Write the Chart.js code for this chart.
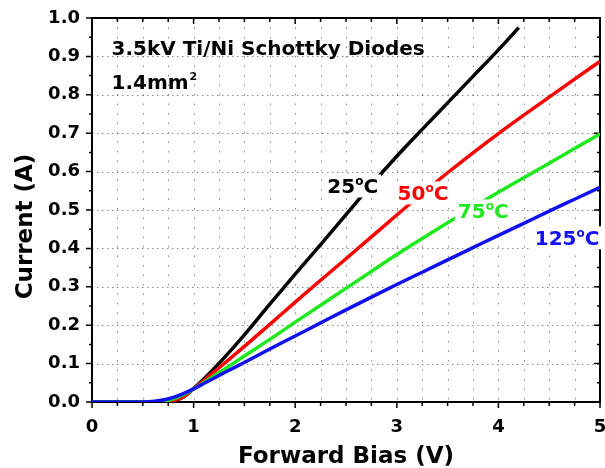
<!DOCTYPE html>
<html>
<head>
<meta charset="utf-8">
<script src="https://cdn.jsdelivr.net/npm/chart.js@4/dist/chart.umd.min.js"></script>
<style>
  html, body { margin: 0; padding: 0; background: #fff; }
  canvas { display: block; }
</style>
</head>
<body>
<canvas id="c" width="605" height="468"></canvas>
<script>
// ---- data ----
const voltage25 = [0, 0.5, 0.75, 0.8, 0.9, 1.0, 1.1, 1.2, 1.3, 1.5, 1.75, 2.0, 2.25, 2.5, 2.75, 3.0, 3.25, 3.5, 3.75, 4.0, 4.2];
const current25 = [0, 0, 0, 0.002, 0.013, 0.035, 0.06, 0.087, 0.115, 0.175, 0.255, 0.333, 0.41, 0.488, 0.566, 0.64, 0.71, 0.779, 0.848, 0.917, 0.975];

const voltage = [0, 0.5, 0.7, 0.8, 0.9, 1.0, 1.1, 1.2, 1.3, 1.5, 1.75, 2.0, 2.25, 2.5, 2.75, 3.0, 3.25, 3.5, 3.75, 4.0, 4.25, 4.5, 4.75, 5.0];
const current50  = [0, 0, 0, 0.003, 0.014, 0.034, 0.056, 0.078, 0.1, 0.145, 0.202, 0.26, 0.317, 0.373, 0.43, 0.487, 0.543, 0.597, 0.649, 0.699, 0.747, 0.794, 0.841, 0.887];
const current75  = [0, 0, 0.002, 0.008, 0.019, 0.034, 0.051, 0.068, 0.085, 0.12, 0.163, 0.208, 0.252, 0.296, 0.34, 0.384, 0.426, 0.467, 0.507, 0.546, 0.584, 0.622, 0.66, 0.698];
const current125 = [0, 0, 0.005, 0.012, 0.022, 0.034, 0.048, 0.062, 0.076, 0.103, 0.138, 0.172, 0.206, 0.24, 0.273, 0.306, 0.338, 0.37, 0.402, 0.434, 0.465, 0.497, 0.528, 0.559];

const seriesTemps = ['25', '50', '75', '125'];
const seriesColors = ['#000000', '#ff0000', '#1ee81e', '#1010f0'];

const xTickLabels = ['0', '1', '2', '3', '4', '5'];
const xTitle = 'Forward Bias (V)';
const yTitle = 'Current (A)';
const noteLine1 = '3.5kV Ti/Ni Schottky Diodes';
const noteLine2 = '1.4mm';
const noteLine2Sup = '2';

// label anchors in data units (left edge V, baseline A)
const tempLabelAnchors = [[2.316, 0.543], [3.008, 0.525], [3.601, 0.478], [4.358, 0.408]];
const noteAnchor = [0.192, 0.904, 0.816];

const FONT = '"DejaVu Sans", "Liberation Sans", Arial, sans-serif';

function pts(xs, ys) { return xs.map((v, i) => ({ x: v, y: ys[i] })); }

const gridFrame = {
  id: 'gridFrame',
  beforeDatasetsDraw(chart) {
    const { ctx, chartArea: a, scales: { x, y } } = chart;
    ctx.save();
    ctx.strokeStyle = 'rgba(0,0,0,0.45)';
    ctx.lineWidth = 1;
    // vertical dotted grid every 0.25 V
    ctx.setLineDash([1.5, 8]);
    ctx.beginPath();
    for (let i = 1; i < 20; i++) {
      const px = Math.round(x.getPixelForValue(i * 0.25)) + 0.5;
      ctx.moveTo(px, a.top); ctx.lineTo(px, a.bottom);
    }
    ctx.stroke();
    // horizontal dotted grid every 0.1 A
    ctx.setLineDash([1.5, 3.5]);
    ctx.beginPath();
    for (let i = 1; i < 10; i++) {
      const py = Math.round(y.getPixelForValue(i * 0.1)) + 0.5;
      ctx.moveTo(a.left, py); ctx.lineTo(a.right, py);
    }
    ctx.stroke();
    ctx.setLineDash([]);
    // frame
    ctx.strokeStyle = '#000';
    ctx.lineWidth = 2;
    ctx.strokeRect(a.left, a.top, a.right - a.left, a.bottom - a.top);
    // tick marks
    ctx.lineWidth = 1.5;
    ctx.beginPath();
    for (let i = 0; i <= 20; i++) {
      const px = x.getPixelForValue(i * 0.25);
      const L = (i % 4 === 0) ? 6 : 4;
      ctx.moveTo(px, a.bottom); ctx.lineTo(px, a.bottom + L);
      ctx.moveTo(px, a.top); ctx.lineTo(px, a.top + L);
    }
    for (let i = 0; i <= 20; i++) {
      const py = y.getPixelForValue(i * 0.05);
      const L = (i % 2 === 0) ? 6 : 3;
      ctx.moveTo(a.left, py); ctx.lineTo(a.left - L, py);
      ctx.moveTo(a.right, py); ctx.lineTo(a.right - L, py);
    }
    ctx.stroke();
    ctx.restore();
  }
};

const annotations = {
  id: 'annotations',
  afterDatasetsDraw(chart) {
    const { ctx, chartArea: a, scales: { x, y } } = chart;
    ctx.save();
    ctx.textAlign = 'left';
    ctx.textBaseline = 'alphabetic';
    // temperature labels with white background
    seriesTemps.forEach((t, i) => {
      const lx = x.getPixelForValue(tempLabelAnchors[i][0]);
      const by = y.getPixelForValue(tempLabelAnchors[i][1]);
      ctx.font = 'bold 20px ' + FONT;
      const w1 = ctx.measureText(t).width;
      const w3 = ctx.measureText('C').width;
      ctx.font = 'bold 12px ' + FONT;
      const w2 = ctx.measureText('o').width;
      ctx.fillStyle = '#fff';
      ctx.fillRect(lx - 3, by - 19, w1 + w2 + w3 + 6, 23);
      ctx.fillStyle = seriesColors[i];
      ctx.font = 'bold 20px ' + FONT;
      ctx.fillText(t, lx, by);
      ctx.font = 'bold 12px ' + FONT;
      ctx.fillText('o', lx + w1, by - 8);
      ctx.font = 'bold 20px ' + FONT;
      ctx.fillText('C', lx + w1 + w2, by);
    });
    // notes
    ctx.fillStyle = '#000';
    const nx = x.getPixelForValue(noteAnchor[0]);
    ctx.font = 'bold 20px ' + FONT;
    ctx.fillText(noteLine1, nx, y.getPixelForValue(noteAnchor[1]));
    const b2 = y.getPixelForValue(noteAnchor[2]);
    ctx.fillText(noteLine2, nx, b2);
    const w = ctx.measureText(noteLine2).width;
    ctx.font = 'bold 11px ' + FONT;
    ctx.fillText(noteLine2Sup, nx + w + 1, b2 - 9);
    // axis titles
    ctx.font = 'bold 23px ' + FONT;
    ctx.textAlign = 'center';
    ctx.fillText(xTitle, (a.left + a.right) / 2, 463);
    ctx.translate(31.5, 226.5);
    ctx.rotate(-Math.PI / 2);
    ctx.fillText(yTitle, 0, 0);
    ctx.restore();
  }
};

const datasets = [
  { label: seriesTemps[0], data: pts(voltage25, current25), order: 3 },
  { label: seriesTemps[1], data: pts(voltage, current50), order: 2 },
  { label: seriesTemps[2], data: pts(voltage, current75), order: 1 },
  { label: seriesTemps[3], data: pts(voltage, current125), order: 0 }
].map((d, i) => Object.assign(d, {
  borderColor: seriesColors[i],
  backgroundColor: seriesColors[i],
  borderWidth: 3.5,
  pointRadius: 0,
  fill: false,
  cubicInterpolationMode: 'monotone'
}));

new Chart(document.getElementById('c'), {
  type: 'line',
  data: { datasets },
  options: {
    responsive: false,
    animation: false,
    devicePixelRatio: 1,
    layout: { padding: { top: 18, right: 5, left: 0, bottom: 0 } },
    plugins: { legend: { display: false }, tooltip: { enabled: false } },
    scales: {
      x: {
        type: 'linear', min: 0, max: 5,
        afterFit(s) { s.height = 66; s.paddingLeft = 0; s.paddingRight = 0; },
        grid: { display: false, drawTicks: false },
        border: { display: false },
        ticks: {
          stepSize: 1, autoSkip: false, maxRotation: 0, padding: 15,
          color: '#000', font: { family: FONT, size: 18, weight: 'bold' },
          callback: (v) => xTickLabels[Math.round(v)] ?? ''
        }
      },
      y: {
        type: 'linear', min: 0, max: 1,
        afterFit(s) { s.width = 92; s.paddingTop = 0; s.paddingBottom = 0; },
        grid: { display: false, drawTicks: false },
        border: { display: false },
        ticks: {
          stepSize: 0.1, autoSkip: false, padding: 12,
          color: '#000', font: { family: FONT, size: 18, weight: 'bold' },
          callback: (v) => v.toFixed(1)
        }
      }
    }
  },
  plugins: [gridFrame, annotations]
});
</script>
</body>
</html>
